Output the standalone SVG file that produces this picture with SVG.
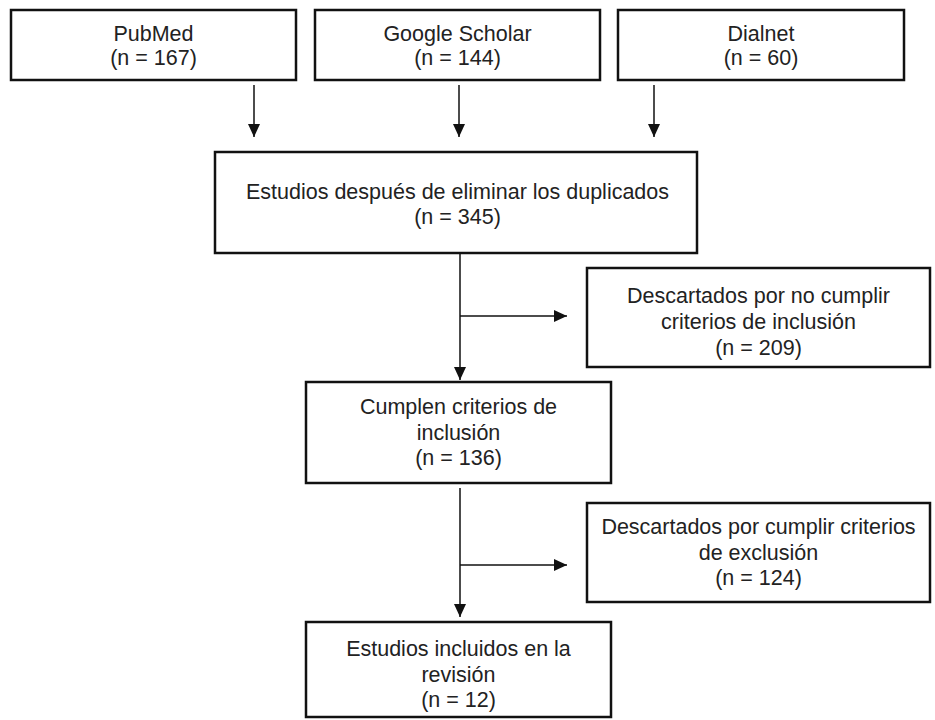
<svg xmlns="http://www.w3.org/2000/svg" width="935" height="720" viewBox="0 0 935 720">
<defs>
<style>
.box{fill:#fff;stroke:#111;stroke-width:2.5}
.t{font-family:"Liberation Sans",Arial,Helvetica,sans-serif;font-size:21.5px;fill:#222;text-anchor:middle}
.c{fill:none;stroke:#111;stroke-width:1.5}
</style>
<marker id="ah" viewBox="0 0 13 12" refX="13" refY="6" markerWidth="13" markerHeight="12" markerUnits="userSpaceOnUse" orient="auto">
<path d="M0,0 L13,6 L0,12 z" fill="#111"/>
</marker>
</defs>
<rect width="935" height="720" fill="#fff"/>
<g id="pubmed">
<rect class="box" x="11" y="10" width="285" height="70"/>
<text class="t" x="153.5" y="41">PubMed</text>
<text class="t" x="153.5" y="65">(n = 167)</text>
</g>
<g id="scholar">
<rect class="box" x="315" y="10" width="285" height="70"/>
<text class="t" x="457.5" y="41">Google Scholar</text>
<text class="t" x="457.5" y="65">(n = 144)</text>
</g>
<g id="dialnet">
<rect class="box" x="618" y="10" width="286" height="70"/>
<text class="t" x="761" y="41">Dialnet</text>
<text class="t" x="761" y="65">(n = 60)</text>
</g>
<g id="duplicados">
<rect class="box" x="215" y="152" width="482" height="101"/>
<text class="t" x="457.5" y="199">Estudios después de eliminar los duplicados</text>
<text class="t" x="457.5" y="224">(n = 345)</text>
</g>
<g id="descartados1">
<rect class="box" x="587" y="268" width="343" height="99"/>
<text class="t" x="758.5" y="303">Descartados por no cumplir</text>
<text class="t" x="758.5" y="329">criterios de inclusión</text>
<text class="t" x="758.5" y="355">(n = 209)</text>
</g>
<g id="cumplen">
<rect class="box" x="306" y="382" width="305" height="101"/>
<text class="t" x="458.5" y="414">Cumplen criterios de</text>
<text class="t" x="458.5" y="440">inclusión</text>
<text class="t" x="458.5" y="465">(n = 136)</text>
</g>
<g id="descartados2">
<rect class="box" x="587" y="503" width="343" height="99"/>
<text class="t" x="758.5" y="534">Descartados por cumplir criterios</text>
<text class="t" x="758.5" y="560">de exclusión</text>
<text class="t" x="758.5" y="585">(n = 124)</text>
</g>
<g id="incluidos">
<rect class="box" x="306" y="622" width="305" height="95"/>
<text class="t" x="458.5" y="656">Estudios incluidos en la</text>
<text class="t" x="458.5" y="682">revisión</text>
<text class="t" x="458.5" y="707">(n = 12)</text>
</g>
<g id="connectors">
<line class="c" x1="254" y1="85" x2="254" y2="137" marker-end="url(#ah)"/>
<line class="c" x1="459" y1="85" x2="459" y2="137" marker-end="url(#ah)"/>
<line class="c" x1="654" y1="85" x2="654" y2="137" marker-end="url(#ah)"/>
<line class="c" x1="460" y1="253" x2="460" y2="380" marker-end="url(#ah)"/>
<line class="c" x1="460" y1="316" x2="567" y2="316" marker-end="url(#ah)"/>
<line class="c" x1="460" y1="488" x2="460" y2="617" marker-end="url(#ah)"/>
<line class="c" x1="460" y1="565" x2="567" y2="565" marker-end="url(#ah)"/>
</g>
</svg>
